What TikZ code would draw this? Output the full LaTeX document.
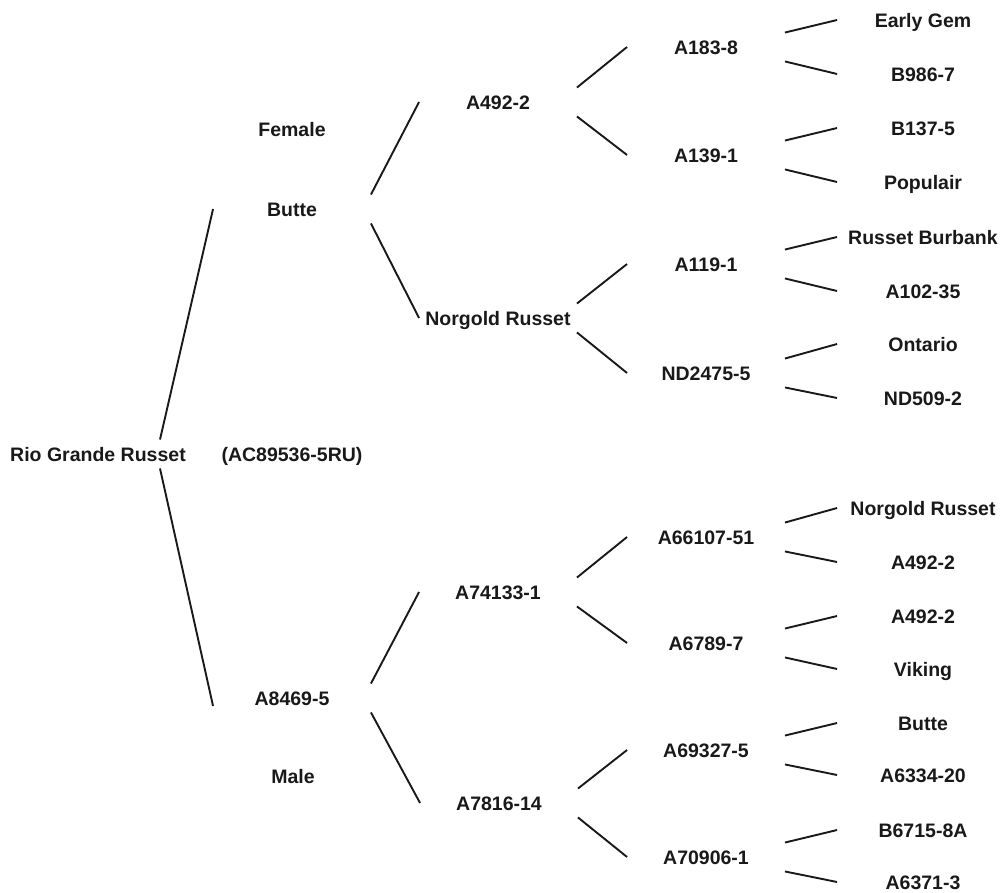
\documentclass[tikz,border=0pt]{standalone}
\usepackage{fontspec}
\setmainfont{Liberation Sans}

\tikzset{every picture/.style={line width=1.9pt}}
\tikzset{
  plant/.style={minimum width=156pt, minimum height=27pt, inner sep=0pt,
    text height=14.3pt, text depth=0pt, text=black!90,
    font=\fontsize{19.5}{23}\selectfont\bfseries},
  leaf/.style={plant, minimum width=170pt},
  note/.style={plant, minimum width=0pt}
}

\begin{document}
\begin{tikzpicture}[x=1pt,y=1pt,yscale=-1,xscale=1]
\useasboundingbox (0,0) rectangle (1001,893);

% Text Node
\draw (98,454) node [note] (root) {Rio Grande Russet};
% Text Node
\draw (292,454) node [note] (code) {(AC89536-5RU)};
% Text Node
\draw (292,129) node [note] (female) {Female};
% Text Node
\draw (293,776) node [note] (male) {Male};

% Text Node
\draw (292,209) node [plant] (butte) {Butte};
% Text Node
\draw (292,698) node [plant] (a8469) {A8469-5};

% Text Node
\draw (498,102) node [plant] (a492) {A492-2};
% Text Node
\draw (498,318) node [plant] (norgold) {Norgold Russet};
% Text Node
\draw (498,592) node [plant] (a74133) {A74133-1};
% Text Node
\draw (499,803) node [plant] (a7816) {A7816-14};

% Text Node
\draw (706,47) node [plant] (a183) {A183-8};
% Text Node
\draw (706,155) node [plant] (a139) {A139-1};
% Text Node
\draw (706,264) node [plant] (a119) {A119-1};
% Text Node
\draw (706,373) node [plant] (nd2475) {ND2475-5};
% Text Node
\draw (706,537) node [plant] (a66107) {A66107-51};
% Text Node
\draw (706,643) node [plant] (a6789) {A6789-7};
% Text Node
\draw (706,750) node [plant] (a69327) {A69327-5};
% Text Node
\draw (706,857) node [plant] (a70906) {A70906-1};

% Text Node
\draw (923,20) node [leaf] (earlygem) {Early Gem};
% Text Node
\draw (923,74) node [leaf] (b986) {B986-7};
% Text Node
\draw (923,128) node [leaf] (b137) {B137-5};
% Text Node
\draw (923,182) node [leaf] (populair) {Populair};
% Text Node
\draw (923,237) node [leaf] (burbank) {Russet Burbank};
% Text Node
\draw (923,291) node [leaf] (a102) {A102-35};
% Text Node
\draw (923,344) node [leaf] (ontario) {Ontario};
% Text Node
\draw (923,398) node [leaf] (nd509) {ND509-2};
% Text Node
\draw (923,508) node [leaf] (norgoldb) {Norgold Russet};
% Text Node
\draw (923,562) node [leaf] (a492b) {A492-2};
% Text Node
\draw (923,616) node [leaf] (a492c) {A492-2};
% Text Node
\draw (923,669) node [leaf] (viking) {Viking};
% Text Node
\draw (923,723) node [leaf] (butteb) {Butte};
% Text Node
\draw (923,775) node [leaf] (a6334) {A6334-20};
% Text Node
\draw (923,830) node [leaf] (b6715) {B6715-8A};
% Text Node
\draw (923,882) node [leaf] (a6371) {A6371-3};

%Straight Lines
\draw [black!90] ([xshift=62pt]root.north) -- (butte.west) ;
\draw [black!90] ([xshift=62pt]root.south) -- ([yshift=8pt]a8469.west) ;

%Straight Lines
\draw [black!90] (butte.north east) -- (a492.west) ;
\draw [black!90] (butte.south east) -- (norgold.west) ;
\draw [black!90] (a8469.north east) -- (a74133.west) ;
\draw [black!90] (a8469.south east) -- (a7816.west) ;

%Straight Lines
\draw [black!90] (a492.north east) -- (a183.west) ;
\draw [black!90] (a492.south east) -- (a139.west) ;
\draw [black!90] (norgold.north east) -- (a119.west) ;
\draw [black!90] (norgold.south east) -- (nd2475.west) ;
\draw [black!90] (a74133.north east) -- (a66107.west) ;
\draw [black!90] (a74133.south east) -- (a6789.west) ;
\draw [black!90] (a7816.north east) -- (a69327.west) ;
\draw [black!90] (a7816.south east) -- (a70906.west) ;

%Straight Lines
\draw [black!90] (a183.north east) -- (earlygem.west) ;
\draw [black!90] (a183.south east) -- (b986.west) ;
\draw [black!90] (a139.north east) -- (b137.west) ;
\draw [black!90] (a139.south east) -- (populair.west) ;
\draw [black!90] (a119.north east) -- (burbank.west) ;
\draw [black!90] (a119.south east) -- (a102.west) ;
\draw [black!90] (nd2475.north east) -- (ontario.west) ;
\draw [black!90] (nd2475.south east) -- (nd509.west) ;
\draw [black!90] (a66107.north east) -- (norgoldb.west) ;
\draw [black!90] (a66107.south east) -- (a492b.west) ;
\draw [black!90] (a6789.north east) -- (a492c.west) ;
\draw [black!90] (a6789.south east) -- (viking.west) ;
\draw [black!90] (a69327.north east) -- (butteb.west) ;
\draw [black!90] (a69327.south east) -- (a6334.west) ;
\draw [black!90] (a70906.north east) -- (b6715.west) ;
\draw [black!90] (a70906.south east) -- (a6371.west) ;

\end{tikzpicture}
\end{document}
